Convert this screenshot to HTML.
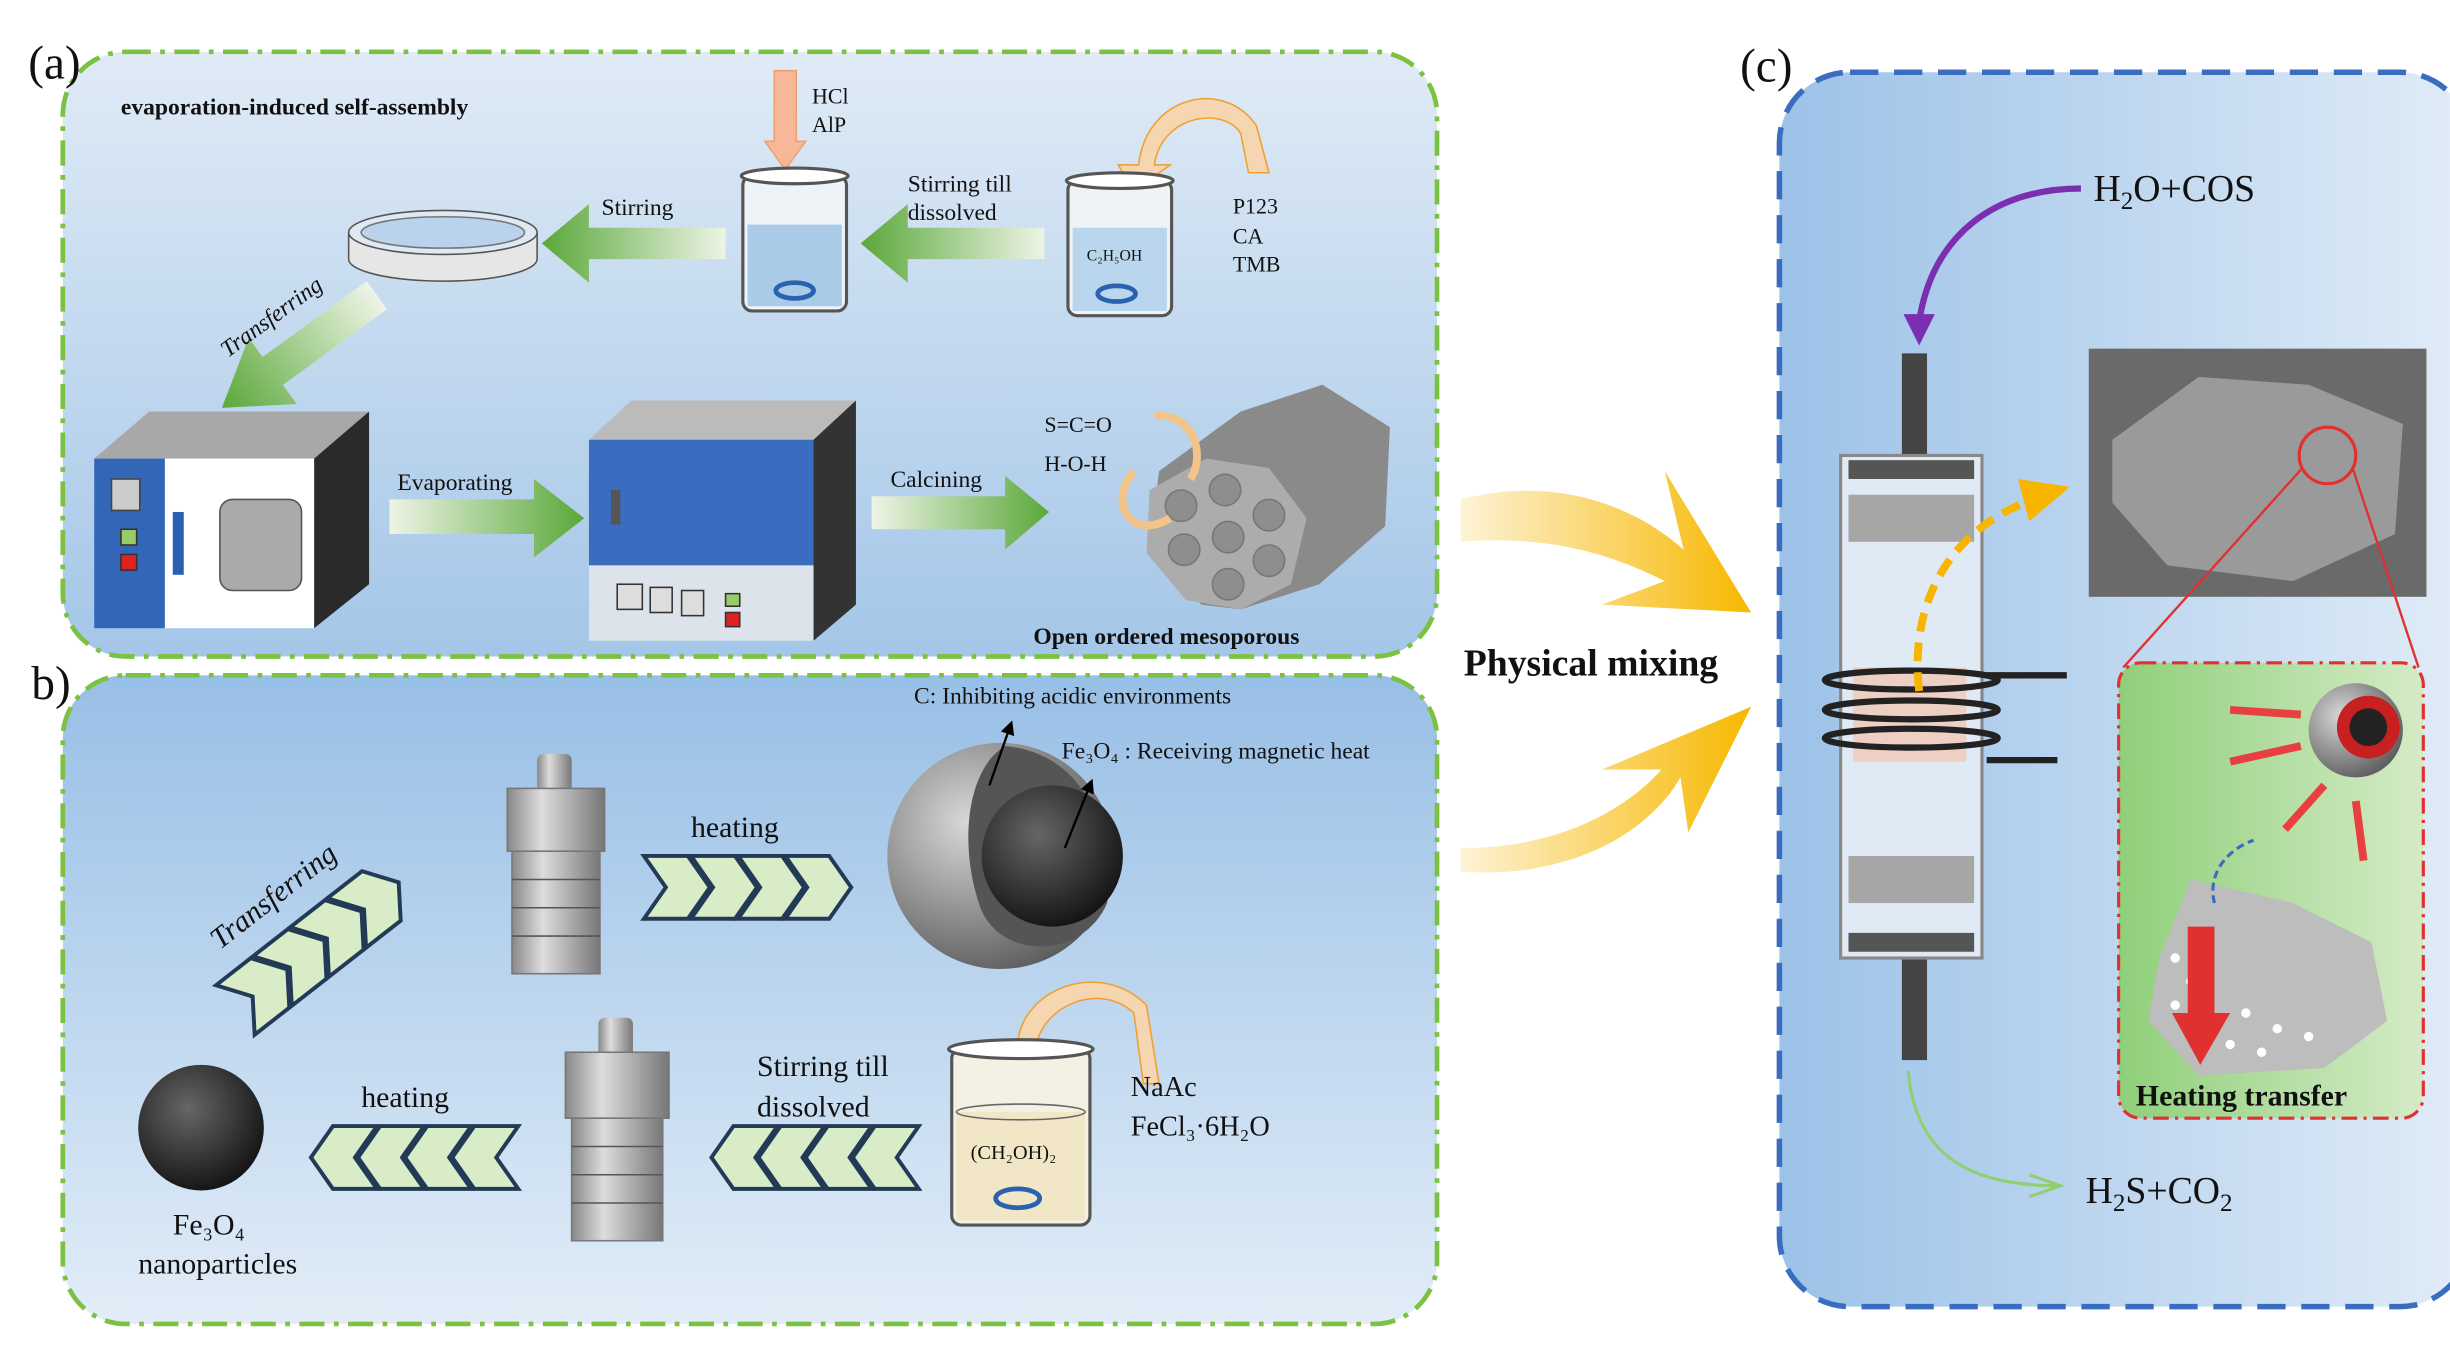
<!DOCTYPE html>
<html><head><meta charset="utf-8"><style>
html,body{margin:0;padding:0;background:#fff;width:2450px;height:1345px;overflow:hidden}
svg{display:block}
text{font-family:"Liberation Serif",serif;fill:#111}
</style></head><body>
<svg width="2450" height="1345" viewBox="0 0 1560 856.4" preserveAspectRatio="none" xmlns="http://www.w3.org/2000/svg">
<defs>
<linearGradient id="ga" x1="0" y1="0" x2="0" y2="1"><stop offset="0" stop-color="#e0ebf6"/><stop offset="1" stop-color="#a4c6e8"/></linearGradient>
<linearGradient id="gb" x1="0" y1="0" x2="0" y2="1"><stop offset="0" stop-color="#98bfe6"/><stop offset="1" stop-color="#e2edf7"/></linearGradient>
<linearGradient id="gc" x1="0" y1="0" x2="1" y2="0"><stop offset="0" stop-color="#9cc2e8"/><stop offset="1" stop-color="#e1ecf7"/></linearGradient>
<linearGradient id="gl" x1="1" y1="0" x2="0" y2="0"><stop offset="0" stop-color="#eef4e6"/><stop offset="1" stop-color="#5aa83a"/></linearGradient>
<linearGradient id="gr" x1="0" y1="0" x2="1" y2="0"><stop offset="0" stop-color="#eef4e6"/><stop offset="1" stop-color="#5aa83a"/></linearGradient>
<linearGradient id="gy" x1="0" y1="0" x2="1" y2="0"><stop offset="0" stop-color="#fdf3d6"/><stop offset="1" stop-color="#f7b800"/></linearGradient>
<linearGradient id="gi" x1="0" y1="0" x2="1" y2="0"><stop offset="0" stop-color="#8fcf7a"/><stop offset="1" stop-color="#d4ebc6"/></linearGradient>
<radialGradient id="sph" cx="0.4" cy="0.35" r="0.7"><stop offset="0" stop-color="#666"/><stop offset="1" stop-color="#111"/></radialGradient>
<radialGradient id="sphg" cx="0.35" cy="0.35" r="0.75"><stop offset="0" stop-color="#d8d8d8"/><stop offset="1" stop-color="#555"/></radialGradient>
<linearGradient id="cyl" x1="0" y1="0" x2="1" y2="0"><stop offset="0" stop-color="#888"/><stop offset="0.35" stop-color="#ddd"/><stop offset="1" stop-color="#777"/></linearGradient>
<marker id="mk" markerWidth="6" markerHeight="6" refX="3" refY="3" orient="auto"><path d="M0,0L6,3L0,6z" fill="#000"/></marker>
</defs>

<!-- Panel a -->
<rect x="40" y="33" width="875" height="385" rx="40" fill="url(#ga)" stroke="#7cc242" stroke-width="3" stroke-dasharray="16 6 3 6"/>
<text x="18" y="50" font-size="30">(a)</text>
<text x="77" y="73" font-size="15" font-weight="bold">evaporation-induced self-assembly</text>
<!-- beaker1 -->
<path d="M493,45 L507,45 L507,90 L513,90 L500,108 L487,90 L493,90z" fill="#f7b89a" stroke="#f0a070"/>
<text x="517" y="66" font-size="14">HCl</text><text x="517" y="84" font-size="14">AlP</text>
<rect x="473" y="112" width="66" height="86" rx="6" fill="#eef3f8" stroke="#555" stroke-width="2"/>
<rect x="476" y="143" width="60" height="52" fill="#a9cbe8"/>
<ellipse cx="506" cy="112" rx="34" ry="5" fill="#fff" stroke="#555" stroke-width="2"/>
<ellipse cx="506" cy="185" rx="12" ry="5" fill="none" stroke="#2a62b0" stroke-width="3"/>
<!-- beaker2 -->
<path d="M725,105 C730,60 780,50 800,80 L808,110 L795,110 L790,85 C780,68 740,72 735,105 L745,105 L722,122 L712,105z" fill="#f6d6b0" stroke="#f0a030"/>
<text x="785" y="136" font-size="14">P123</text><text x="785" y="155" font-size="14">CA</text><text x="785" y="173" font-size="14">TMB</text>
<rect x="680" y="115" width="66" height="86" rx="6" fill="#eef3f8" stroke="#555" stroke-width="2"/>
<rect x="683" y="145" width="60" height="53" fill="#b9d6ee"/>
<ellipse cx="713" cy="115" rx="34" ry="5" fill="#fff" stroke="#555" stroke-width="2"/>
<text x="692" y="166" font-size="10">C₂H₅OH</text>
<ellipse cx="711" cy="187" rx="12" ry="5" fill="none" stroke="#2a62b0" stroke-width="3"/>
<!-- green arrows -->
<path d="M665,145 L578,145 L578,130 L548,155 L578,180 L578,165 L665,165z" fill="url(#gl)"/>
<text x="578" y="122" font-size="15">Stirring till</text><text x="578" y="140" font-size="15">dissolved</text>
<path d="M462,145 L375,145 L375,130 L345,155 L375,180 L375,165 L462,165z" fill="url(#gl)"/>
<text x="383" y="137" font-size="15">Stirring</text>
<!-- petri -->
<path d="M222,148 L222,165 A60,14 0 0 0 342,165 L342,148z" fill="#e6e6e6" stroke="#555"/>
<ellipse cx="282" cy="148" rx="60" ry="14" fill="#dfe9f3" stroke="#555"/>
<ellipse cx="282" cy="148" rx="52" ry="10" fill="#b9d3ec" stroke="#777"/>
<!-- transferring -->
<g transform="translate(240,188) rotate(144)">
<path d="M0,-11 L82,-11 L82,-26 L122,0 L82,26 L82,11 L0,11z" fill="url(#gr)"/>
</g>
<text x="145" y="228" font-size="15" font-style="italic" transform="rotate(-36 145 228)">Transferring</text>
<!-- oven1 -->
<path d="M60,292 L95,262 L235,262 L200,292z" fill="#a8a8a8"/>
<path d="M200,292 L235,262 L235,372 L200,400z" fill="#2a2a2a"/>
<rect x="60" y="292" width="45" height="108" fill="#3466b8"/>
<rect x="105" y="292" width="95" height="108" fill="#fff"/>
<rect x="140" y="318" width="52" height="58" rx="8" fill="#aaa" stroke="#555"/>
<rect x="71" y="305" width="18" height="20" fill="#ccc" stroke="#444"/>
<rect x="77" y="337" width="10" height="10" fill="#9c6" stroke="#333"/>
<rect x="77" y="353" width="10" height="10" fill="#d22" stroke="#333"/>
<rect x="110" y="326" width="7" height="40" fill="#2a5fb0"/>
<!-- evaporating -->
<path d="M248,318 L340,318 L340,305 L372,330 L340,355 L340,340 L248,340z" fill="url(#gr)"/>
<text x="253" y="312" font-size="15">Evaporating</text>
<!-- furnace -->
<path d="M375,280 L402,255 L545,255 L518,280z" fill="#bbb"/>
<path d="M518,280 L545,255 L545,385 L518,408z" fill="#333"/>
<rect x="375" y="280" width="143" height="80" fill="#3a6cc0"/>
<rect x="375" y="360" width="143" height="48" fill="#dde3ea"/>
<rect x="389" y="312" width="6" height="22" fill="#555"/>
<rect x="393" y="372" width="16" height="16" fill="#ddd" stroke="#333"/><rect x="414" y="374" width="14" height="16" fill="#ddd" stroke="#333"/><rect x="434" y="376" width="14" height="16" fill="#ddd" stroke="#333"/>
<rect x="462" y="378" width="9" height="8" fill="#9c6" stroke="#333"/><rect x="462" y="390" width="9" height="9" fill="#d22" stroke="#333"/>
<!-- calcining -->
<path d="M555,316 L640,316 L640,303 L668,326 L640,350 L640,337 L555,337z" fill="url(#gr)"/>
<text x="567" y="310" font-size="15">Calcining</text>
<!-- mesoporous -->
<path d="M738,300 L790,262 L842,245 L885,272 L882,335 L840,372 L790,388 L765,385 L732,350z" fill="#8a8a8a"/>
<path d="M732,312 L768,292 L808,298 L832,330 L822,372 L790,388 L755,382 L730,352z" fill="#acacac"/>
<g fill="#8e8e8e" stroke="#777"><circle cx="752" cy="322" r="10"/><circle cx="780" cy="312" r="10"/><circle cx="808" cy="328" r="10"/><circle cx="754" cy="350" r="10"/><circle cx="782" cy="342" r="10"/><circle cx="808" cy="357" r="10"/><circle cx="782" cy="372" r="10"/></g>
<path d="M735,265 C760,262 768,290 758,305" fill="none" stroke="#f3c48a" stroke-width="5"/>
<path d="M722,300 C705,320 720,345 745,330" fill="none" stroke="#f3c48a" stroke-width="5"/>
<text x="665" y="275" font-size="14">S=C=O</text><text x="665" y="300" font-size="14">H-O-H</text>
<text x="658" y="410" font-size="15" font-weight="bold">Open  ordered mesoporous</text>

<!-- Panel b -->
<rect x="40" y="430" width="875" height="413" rx="40" fill="url(#gb)" stroke="#7cc242" stroke-width="3" stroke-dasharray="16 6 3 6"/>
<text x="20" y="445" font-size="30">b)</text>
<text x="582" y="448" font-size="15">C: Inhibiting acidic environments</text>
<text x="676" y="483" font-size="15">Fe₃O₄ : Receiving magnetic heat</text>
<circle cx="637" cy="545" r="72" fill="url(#sphg)"/>
<path d="M640,475 C690,480 708,525 705,575 C690,610 640,612 625,580 C610,540 615,490 640,475z" fill="#555"/>
<circle cx="670" cy="545" r="45" fill="url(#sph)"/>
<line x1="630" y1="500" x2="643" y2="463" stroke="#000" stroke-width="1.5" marker-end="url(#mk)"/>
<line x1="678" y1="540" x2="694" y2="500" stroke="#000" stroke-width="1.5" marker-end="url(#mk)"/>
<!-- autoclave 1 -->
<g transform="translate(318,480)">
<rect x="24" y="0" width="22" height="25" rx="4" fill="url(#cyl)"/>
<rect x="5" y="22" width="62" height="40" fill="url(#cyl)" stroke="#777"/>
<rect x="8" y="62" width="56" height="78" fill="url(#cyl)" stroke="#777"/>
<line x1="8" y1="80" x2="64" y2="80" stroke="#555"/><line x1="8" y1="98" x2="64" y2="98" stroke="#555"/><line x1="8" y1="116" x2="64" y2="116" stroke="#555"/>
</g>
<g transform="translate(355,648)">
<rect x="26" y="0" width="22" height="25" rx="4" fill="url(#cyl)"/>
<rect x="5" y="22" width="66" height="42" fill="url(#cyl)" stroke="#777"/>
<rect x="9" y="64" width="58" height="78" fill="url(#cyl)" stroke="#777"/>
<line x1="9" y1="82" x2="67" y2="82" stroke="#555"/><line x1="9" y1="100" x2="67" y2="100" stroke="#555"/><line x1="9" y1="118" x2="67" y2="118" stroke="#555"/>
</g>
<!-- chevrons right heating -->
<g fill="#d7ecc7" stroke="#223a55" stroke-width="2.5">
<path d="M410,545 L438,545 L452,565 L438,585 L410,585 L424,565z"/>
<path d="M440,545 L468,545 L482,565 L468,585 L440,585 L454,565z"/>
<path d="M470,545 L498,545 L512,565 L498,585 L470,585 L484,565z"/>
<path d="M500,545 L528,545 L542,565 L528,585 L500,585 L514,565z"/>
</g>
<text x="440" y="533" font-size="19">heating</text>
<!-- transferring chevrons diagonal -->
<g transform="translate(205,600) rotate(-38)" fill="#d7ecc7" stroke="#223a55" stroke-width="2.5">
<path d="M-70,-20 L-42,-20 L-28,0 L-42,20 L-70,20 L-56,0z"/>
<path d="M-40,-20 L-12,-20 L2,0 L-12,20 L-40,20 L-26,0z"/>
<path d="M-10,-20 L18,-20 L32,0 L18,20 L-10,20 L4,0z"/>
<path d="M20,-20 L48,-20 L62,0 L48,20 L20,20 L34,0z"/>
</g>
<text x="140" y="605" font-size="19" font-style="italic" transform="rotate(-38 140 605)">Transferring</text>
<!-- bottom row -->
<circle cx="128" cy="718" r="40" fill="url(#sph)"/>
<text x="110" y="786" font-size="19">Fe₃O₄</text>
<text x="88" y="811" font-size="19">nanoparticles</text>
<g fill="#d7ecc7" stroke="#223a55" stroke-width="2.5">
<path d="M330,717 L302,717 L288,737 L302,757 L330,757 L316,737z"/>
<path d="M300,717 L272,717 L258,737 L272,757 L300,757 L286,737z"/>
<path d="M270,717 L242,717 L228,737 L242,757 L270,757 L256,737z"/>
<path d="M240,717 L212,717 L198,737 L212,757 L240,757 L226,737z"/>
<path d="M585,717 L557,717 L543,737 L557,757 L585,757 L571,737z"/>
<path d="M555,717 L527,717 L513,737 L527,757 L555,757 L541,737z"/>
<path d="M525,717 L497,717 L483,737 L497,757 L525,757 L511,737z"/>
<path d="M495,717 L467,717 L453,737 L467,757 L495,757 L481,737z"/>
</g>
<text x="230" y="705" font-size="19">heating</text>
<text x="482" y="685" font-size="19">Stirring till</text>
<text x="482" y="711" font-size="19">dissolved</text>
<!-- beaker b -->
<path d="M648,665 C650,630 700,610 730,640 L738,690 L728,690 L722,645 C700,625 665,640 660,665 L668,665 L648,680 L632,665z" fill="#f6d6b0" stroke="#f0a030"/>
<rect x="606" y="668" width="88" height="112" rx="6" fill="#f3f0e4" stroke="#555" stroke-width="2"/>
<rect x="609" y="708" width="82" height="69" fill="#f1e6c6"/>
<ellipse cx="650" cy="668" rx="46" ry="6" fill="#fff" stroke="#555" stroke-width="2"/>
<ellipse cx="650" cy="708" rx="41" ry="5" fill="none" stroke="#666"/>
<text x="618" y="738" font-size="13">(CH₂OH)₂</text>
<ellipse cx="648" cy="763" rx="14" ry="6" fill="none" stroke="#2a62b0" stroke-width="3"/>
<text x="720" y="698" font-size="18">NaAc</text>
<text x="720" y="723" font-size="18">FeCl₃·6H₂O</text>

<!-- physical mixing -->
<path d="M930,318 C1000,300 1050,330 1072,350 L1060,300 L1115,390 L1020,385 L1060,370 C1030,355 990,340 930,345z" fill="url(#gy)"/>
<path d="M930,540 C1000,540 1040,510 1058,490 L1020,490 L1115,450 L1075,530 L1070,495 C1050,530 1000,560 930,555z" fill="url(#gy)"/>
<text x="932" y="430" font-size="24" font-weight="bold">Physical mixing</text>

<!-- Panel c -->
<rect x="1133" y="46" width="440" height="786" rx="45" fill="url(#gc)" stroke="#3a6cc0" stroke-width="3.5" stroke-dasharray="18 10"/>
<text x="1108" y="52" font-size="30">(c)</text>
<text x="1333" y="128" font-size="24">H<tspan font-size="16" dy="5">2</tspan><tspan dy="-5">O+COS</tspan></text>
<path d="M1325,120 C1270,120 1230,150 1222,205" fill="none" stroke="#7b2fb0" stroke-width="4"/>
<path d="M1212,200 L1222,220 L1232,200z" fill="#7b2fb0"/>
<!-- reactor -->
<rect x="1211" y="225" width="16" height="67" fill="#444"/>
<rect x="1211" y="608" width="16" height="67" fill="#444"/>
<rect x="1172" y="290" width="90" height="320" fill="#dfeaf5" stroke="#888" stroke-width="2"/>
<rect x="1177" y="293" width="80" height="12" fill="#555"/>
<rect x="1177" y="315" width="80" height="30" fill="#a6a6a6"/>
<rect x="1177" y="545" width="80" height="30" fill="#a6a6a6"/>
<rect x="1177" y="594" width="80" height="12" fill="#555"/>
<rect x="1180" y="425" width="72" height="60" fill="#f0c8b8" opacity="0.8"/>
<g fill="none" stroke="#222" stroke-width="4">
<ellipse cx="1217" cy="433" rx="55" ry="6"/><ellipse cx="1217" cy="452" rx="55" ry="6"/><ellipse cx="1217" cy="470" rx="55" ry="6"/>
</g>
<line x1="1265" y1="430" x2="1316" y2="430" stroke="#222" stroke-width="4"/>
<line x1="1265" y1="484" x2="1310" y2="484" stroke="#222" stroke-width="4"/>
<path d="M1222,440 C1215,380 1245,335 1295,318" fill="none" stroke="#f7b500" stroke-width="5" stroke-dasharray="12 7"/>
<path d="M1285,305 L1318,310 L1292,332z" fill="#f7b500"/>
<!-- SEM -->
<rect x="1330" y="222" width="215" height="158" fill="#6a6a6a"/>
<path d="M1345,280 L1400,240 L1470,245 L1530,270 L1525,340 L1460,370 L1380,360 L1345,320z" fill="#9a9a9a"/>
<circle cx="1482" cy="290" r="18" fill="none" stroke="#e03030" stroke-width="2"/>
<line x1="1466" y1="298" x2="1352" y2="425" stroke="#e03030" stroke-width="1.5"/>
<line x1="1498" y1="298" x2="1540" y2="425" stroke="#e03030" stroke-width="1.5"/>
<rect x="1349" y="422" width="194" height="290" rx="14" fill="url(#gi)" stroke="#e03030" stroke-width="2" stroke-dasharray="10 4 2 4"/>
<circle cx="1500" cy="465" r="30" fill="url(#sphg)"/>
<circle cx="1508" cy="463" r="20" fill="#c82020"/><circle cx="1508" cy="463" r="12" fill="#222"/>
<g fill="none" stroke="#e84040" stroke-width="5">
<path d="M1465,455 L1420,452"/><path d="M1465,475 L1420,485"/><path d="M1480,500 L1455,528"/><path d="M1500,510 L1505,548"/>
</g>
<path d="M1375,610 L1395,560 L1460,575 L1510,600 L1520,650 L1480,680 L1400,685 L1368,650z" fill="#bdbdbd"/>
<g fill="#fff">
<circle cx="1385" cy="610" r="3"/><circle cx="1395" cy="625" r="3"/><circle cx="1385" cy="640" r="3"/><circle cx="1405" cy="650" r="3"/><circle cx="1420" cy="665" r="3"/><circle cx="1440" cy="670" r="3"/><circle cx="1430" cy="645" r="3"/><circle cx="1450" cy="655" r="3"/><circle cx="1470" cy="660" r="3"/>
</g>
<path d="M1393,590 L1410,590 L1410,645 L1420,645 L1401,678 L1383,645 L1393,645z" fill="#e03030"/>
<path d="M1410,575 C1405,555 1420,540 1435,535" fill="none" stroke="#3a6cc0" stroke-width="2" stroke-dasharray="5 3"/>
<text x="1360" y="704" font-size="19" font-weight="bold">Heating transfer</text>
<path d="M1215,682 C1220,740 1260,755 1310,755" fill="none" stroke="#8fd070" stroke-width="2"/>
<path d="M1292,748 L1312,755 L1292,762" fill="none" stroke="#8fd070" stroke-width="2"/>
<text x="1328" y="766" font-size="24">H<tspan font-size="16" dy="5">2</tspan><tspan dy="-5">S+CO</tspan><tspan font-size="16" dy="5">2</tspan></text>
</svg>
</body></html>
